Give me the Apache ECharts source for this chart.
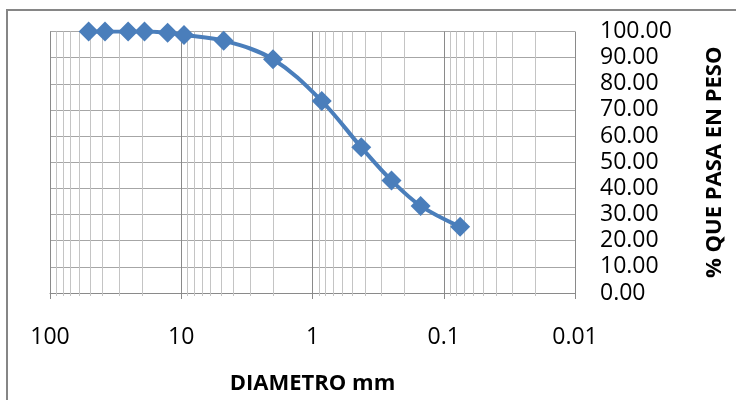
<!DOCTYPE html>
<html>
<head>
<meta charset="utf-8">
<script src="https://cdn.jsdelivr.net/npm/echarts@6/dist/echarts.min.js"></script>
<style>
html,body{margin:0;padding:0;background:#fff;}
#chart{width:736px;height:400px;}
</style>
</head>
<body>
<div id="chart"></div>
<script>
// Sieve diameters (mm) and percent passing
const diameters = [50.8, 38.1, 25.4, 19.05, 12.7, 9.525, 4.75, 2.0, 0.85, 0.425, 0.25, 0.15, 0.075];
const passing = [100, 100, 100, 100, 99.5, 98.7, 96.5, 89.4, 73.4, 55.7, 43.0, 33.3, 25.3];
// Axis tick labels
const xTickLabels = [100, 10, 1, 0.1, 0.01];
const yTickValues = [0, 10, 20, 30, 40, 50, 60, 70, 80, 90, 100];
// Minor logarithmic grid positions
const minorGrid = [90, 80, 70, 60, 50, 40, 30, 20,
                   9, 8, 7, 6, 5, 4, 3, 2,
                   0.9, 0.8, 0.7, 0.6, 0.5, 0.4, 0.3, 0.2,
                   0.09, 0.08, 0.07, 0.06, 0.05, 0.04, 0.03, 0.02];

const FONT = '"Open Sans", "Noto Sans", sans-serif';
const chart = echarts.init(document.getElementById('chart'), null, {renderer: 'canvas'});

const option = {
  animation: false,
  backgroundColor: '#ffffff',
  graphic: [{
    type: 'rect',
    shape: {x: 7, y: 10, width: 760, height: 420},
    style: {fill: 'none', stroke: '#868686', lineWidth: 2},
    silent: true,
    z: 0
  }],
  grid: {left: 50, right: 161, top: 31.5, bottom: 105, containLabel: false},
  xAxis: {
    type: 'log',
    logBase: 10,
    min: 0.01,
    max: 100,
    inverse: true,
    name: 'DIAMETRO mm',
    nameLocation: 'middle',
    nameGap: 80,
    nameTextStyle: {fontFamily: FONT, fontSize: 22, fontWeight: 'bold', color: '#000'},
    axisLine: {show: true, onZero: false, lineStyle: {color: '#8a8a8a', width: 1}},
    axisTick: {show: true, length: 6, lineStyle: {color: '#8a8a8a'}},
    splitLine: {show: true, lineStyle: {color: '#8a8a8a', width: 1}},
    minorTick: {show: false},
    minorSplitLine: {show: false},
    axisLabel: {
      margin: 33,
      fontFamily: FONT,
      fontSize: 23,
      color: '#000',
      formatter: function (v) {
        const t = xTickLabels.find(function (t) { return Math.abs(Math.log10(t) - Math.log10(v)) < 1e-6; });
        return t !== undefined ? String(t) : '';
      }
    }
  },
  yAxis: {
    type: 'value',
    position: 'right',
    min: 0,
    max: 100,
    interval: 10,
    name: '% QUE PASA EN PESO',
    nameLocation: 'middle',
    nameRotate: 90,
    nameGap: 129,
    nameTextStyle: {fontFamily: FONT, fontSize: 22, fontWeight: 'bold', color: '#000'},
    axisLine: {show: false},
    axisTick: {show: false},
    splitLine: {show: true, lineStyle: {color: '#a6a6a6', width: 1}},
    axisLabel: {
      margin: 25,
      fontFamily: FONT,
      fontSize: 23,
      color: '#000',
      align: 'left',
      formatter: function (v) { return yTickValues.indexOf(v) >= 0 ? v.toFixed(2) : ''; }
    }
  },
  series: [
    {
      type: 'custom',
      silent: true,
      z: 1,
      data: minorGrid.map(function (v) { return [v, 0]; }),
      renderItem: function (params, api) {
        const bottom = api.coord([api.value(0), 0]);
        const top = api.coord([api.value(0), 100]);
        const x = Math.round(bottom[0]) + 0.5;
        return {
          type: 'line',
          shape: {x1: x, y1: top[1], x2: x, y2: bottom[1] + 3},
          style: {stroke: '#c4c4c4', lineWidth: 1}
        };
      }
    },
    {
      type: 'line',
      z: 5,
      data: diameters.map(function (d, i) { return [d, passing[i]]; }),
      smooth: 0.35,
      symbol: 'diamond',
      symbolSize: 20,
      itemStyle: {color: '#4a7ebb'},
      lineStyle: {color: '#4a7ebb', width: 4}
    }
  ]
};
chart.setOption(option);
</script>
</body>
</html>
